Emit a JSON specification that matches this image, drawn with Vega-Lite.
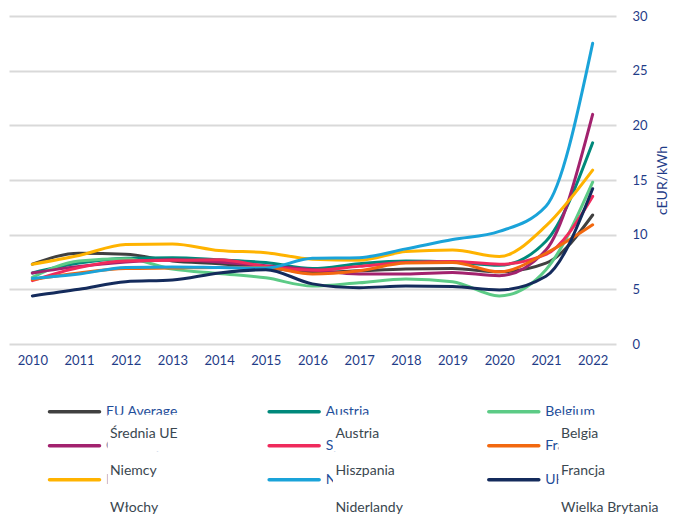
{
  "$schema": "https://vega.github.io/schema/vega-lite/v6.json",
  "padding": {"left": 9, "top": 10, "right": 0, "bottom": 0},
  "spacing": 27,
  "config": {"view": {"stroke": null}, "font": "Lato"},
  "datasets": {
    "prices": [
      {"country": "EU Average", "year": 2010, "value": 7.3}, {"country": "EU Average", "year": 2011, "value": 8.3}, {"country": "EU Average", "year": 2012, "value": 8.2}, {"country": "EU Average", "year": 2013, "value": 7.6}, {"country": "EU Average", "year": 2014, "value": 7.35}, {"country": "EU Average", "year": 2015, "value": 7.0}, {"country": "EU Average", "year": 2016, "value": 6.55}, {"country": "EU Average", "year": 2017, "value": 6.7}, {"country": "EU Average", "year": 2018, "value": 6.85}, {"country": "EU Average", "year": 2019, "value": 6.9}, {"country": "EU Average", "year": 2020, "value": 6.6}, {"country": "EU Average", "year": 2021, "value": 7.4}, {"country": "EU Average", "year": 2022, "value": 11.8},
      {"country": "Austria", "year": 2010, "value": 6.5}, {"country": "Austria", "year": 2011, "value": 7.4}, {"country": "Austria", "year": 2012, "value": 7.85}, {"country": "Austria", "year": 2013, "value": 7.9}, {"country": "Austria", "year": 2014, "value": 7.7}, {"country": "Austria", "year": 2015, "value": 7.45}, {"country": "Austria", "year": 2016, "value": 6.9}, {"country": "Austria", "year": 2017, "value": 7.35}, {"country": "Austria", "year": 2018, "value": 7.6}, {"country": "Austria", "year": 2019, "value": 7.5}, {"country": "Austria", "year": 2020, "value": 7.2}, {"country": "Austria", "year": 2021, "value": 9.4}, {"country": "Austria", "year": 2022, "value": 18.4},
      {"country": "Belgium", "year": 2010, "value": 6.1}, {"country": "Belgium", "year": 2011, "value": 7.6}, {"country": "Belgium", "year": 2012, "value": 7.8}, {"country": "Belgium", "year": 2013, "value": 6.85}, {"country": "Belgium", "year": 2014, "value": 6.45}, {"country": "Belgium", "year": 2015, "value": 6.05}, {"country": "Belgium", "year": 2016, "value": 5.3}, {"country": "Belgium", "year": 2017, "value": 5.6}, {"country": "Belgium", "year": 2018, "value": 5.95}, {"country": "Belgium", "year": 2019, "value": 5.7}, {"country": "Belgium", "year": 2020, "value": 4.4}, {"country": "Belgium", "year": 2021, "value": 6.8}, {"country": "Belgium", "year": 2022, "value": 14.8},
      {"country": "Germany", "year": 2010, "value": 6.5}, {"country": "Germany", "year": 2011, "value": 7.1}, {"country": "Germany", "year": 2012, "value": 7.5}, {"country": "Germany", "year": 2013, "value": 7.7}, {"country": "Germany", "year": 2014, "value": 7.5}, {"country": "Germany", "year": 2015, "value": 7.15}, {"country": "Germany", "year": 2016, "value": 6.8}, {"country": "Germany", "year": 2017, "value": 6.4}, {"country": "Germany", "year": 2018, "value": 6.4}, {"country": "Germany", "year": 2019, "value": 6.55}, {"country": "Germany", "year": 2020, "value": 6.25}, {"country": "Germany", "year": 2021, "value": 8.6}, {"country": "Germany", "year": 2022, "value": 21.0},
      {"country": "Spain", "year": 2010, "value": 5.8}, {"country": "Spain", "year": 2011, "value": 7.0}, {"country": "Spain", "year": 2012, "value": 7.6}, {"country": "Spain", "year": 2013, "value": 7.65}, {"country": "Spain", "year": 2014, "value": 7.7}, {"country": "Spain", "year": 2015, "value": 7.1}, {"country": "Spain", "year": 2016, "value": 6.75}, {"country": "Spain", "year": 2017, "value": 7.1}, {"country": "Spain", "year": 2018, "value": 7.45}, {"country": "Spain", "year": 2019, "value": 7.55}, {"country": "Spain", "year": 2020, "value": 7.3}, {"country": "Spain", "year": 2021, "value": 8.2}, {"country": "Spain", "year": 2022, "value": 13.5},
      {"country": "France", "year": 2010, "value": 5.9}, {"country": "France", "year": 2011, "value": 6.5}, {"country": "France", "year": 2012, "value": 6.9}, {"country": "France", "year": 2013, "value": 6.95}, {"country": "France", "year": 2014, "value": 7.0}, {"country": "France", "year": 2015, "value": 7.0}, {"country": "France", "year": 2016, "value": 6.4}, {"country": "France", "year": 2017, "value": 6.7}, {"country": "France", "year": 2018, "value": 7.4}, {"country": "France", "year": 2019, "value": 7.45}, {"country": "France", "year": 2020, "value": 6.6}, {"country": "France", "year": 2021, "value": 8.3}, {"country": "France", "year": 2022, "value": 10.9},
      {"country": "Italy", "year": 2010, "value": 7.3}, {"country": "Italy", "year": 2011, "value": 8.1}, {"country": "Italy", "year": 2012, "value": 9.1}, {"country": "Italy", "year": 2013, "value": 9.15}, {"country": "Italy", "year": 2014, "value": 8.55}, {"country": "Italy", "year": 2015, "value": 8.35}, {"country": "Italy", "year": 2016, "value": 7.75}, {"country": "Italy", "year": 2017, "value": 7.65}, {"country": "Italy", "year": 2018, "value": 8.45}, {"country": "Italy", "year": 2019, "value": 8.6}, {"country": "Italy", "year": 2020, "value": 8.0}, {"country": "Italy", "year": 2021, "value": 10.8}, {"country": "Italy", "year": 2022, "value": 15.9},
      {"country": "Netherlands", "year": 2010, "value": 6.0}, {"country": "Netherlands", "year": 2011, "value": 6.4}, {"country": "Netherlands", "year": 2012, "value": 7.0}, {"country": "Netherlands", "year": 2013, "value": 7.05}, {"country": "Netherlands", "year": 2014, "value": 7.0}, {"country": "Netherlands", "year": 2015, "value": 6.95}, {"country": "Netherlands", "year": 2016, "value": 7.85}, {"country": "Netherlands", "year": 2017, "value": 7.9}, {"country": "Netherlands", "year": 2018, "value": 8.7}, {"country": "Netherlands", "year": 2019, "value": 9.55}, {"country": "Netherlands", "year": 2020, "value": 10.3}, {"country": "Netherlands", "year": 2021, "value": 12.6}, {"country": "Netherlands", "year": 2022, "value": 27.5},
      {"country": "UK", "year": 2010, "value": 4.4}, {"country": "UK", "year": 2011, "value": 5.0}, {"country": "UK", "year": 2012, "value": 5.7}, {"country": "UK", "year": 2013, "value": 5.85}, {"country": "UK", "year": 2014, "value": 6.5}, {"country": "UK", "year": 2015, "value": 6.8}, {"country": "UK", "year": 2016, "value": 5.5}, {"country": "UK", "year": 2017, "value": 5.15}, {"country": "UK", "year": 2018, "value": 5.3}, {"country": "UK", "year": 2019, "value": 5.25}, {"country": "UK", "year": 2020, "value": 4.95}, {"country": "UK", "year": 2021, "value": 6.2}, {"country": "UK", "year": 2022, "value": 14.2}
    ],
    "legend": [
      {"country": "EU Average", "en": "EU Average", "pl": "Średnia UE"},
      {"country": "Austria", "en": "Austria", "pl": "Austria"},
      {"country": "Belgium", "en": "Belgium", "pl": "Belgia"},
      {"country": "Germany", "en": "Germany", "pl": "Niemcy"},
      {"country": "Spain", "en": "Spain", "pl": "Hiszpania"},
      {"country": "France", "en": "France", "pl": "Francja"},
      {"country": "Italy", "en": "Italy", "pl": "Włochy"},
      {"country": "Netherlands", "en": "Netherlands", "pl": "Niderlandy"},
      {"country": "UK", "en": "UK", "pl": "Wielka Brytania"}
    ]
  },
  "vconcat": [
    {
      "width": 607,
      "height": 328,
      "data": {"name": "prices"},
      "mark": {"type": "line", "interpolate": "monotone", "strokeWidth": 3, "strokeCap": "round"},
      "encoding": {
        "x": {
          "field": "year", "type": "quantitative",
          "scale": {"domain": [2009.5, 2022.5], "nice": false, "zero": false},
          "axis": {"values": [2010, 2011, 2012, 2013, 2014, 2015, 2016, 2017, 2018, 2019, 2020, 2021, 2022], "format": "d", "grid": false, "ticks": false, "domain": false, "labelPadding": 10, "title": null, "labelFontSize": 13, "labelColor": "#1F3C88", "labelFont": "Lato"}
        },
        "y": {
          "field": "value", "type": "quantitative",
          "scale": {"domain": [0, 30], "nice": false},
          "axis": {"orient": "right", "values": [0, 5, 10, 15, 20, 25, 30], "grid": true, "gridColor": "#D9D9D9", "gridWidth": 2, "ticks": false, "domain": false, "labelPadding": 16, "labelFontSize": 13, "labelColor": "#1F3C88", "labelFont": "Lato", "title": "cEUR/kWh", "titleAngle": 270, "titleFontSize": 14, "titleFontWeight": "normal", "titleColor": "#1F3C88", "titleFont": "Lato", "titlePadding": 22}
        },
        "color": {
          "field": "country", "type": "nominal",
          "scale": {"domain": ["EU Average", "Austria", "Belgium", "Germany", "Spain", "France", "Italy", "Netherlands", "UK"], "range": ["#404040", "#00897B", "#5CCB86", "#A2226E", "#EF2A5C", "#F2680F", "#FFB300", "#1AA3D9", "#142B5C"]},
          "legend": null
        }
      }
    },
    {
      "width": 607,
      "height": 120,
      "data": {"name": "legend"},
      "transform": [
        {"window": [{"op": "row_number", "as": "i"}]},
        {"calculate": "(datum.i - 1) % 3", "as": "col"},
        {"calculate": "floor((datum.i - 1) / 3)", "as": "row"}
      ],
      "layer": [
        {
          "mark": {"type": "rule", "strokeWidth": 3.5, "strokeCap": "round", "xOffset": 1.5, "x2Offset": 51.5},
          "encoding": {
            "x": {"field": "col", "type": "quantitative", "scale": {"domain": [0, 2], "range": [39, 478.3]}, "axis": null},
            "x2": {"field": "col"},
            "y": {"field": "row", "type": "quantitative", "scale": {"domain": [0, 2], "range": [17.7, 85.7]}, "axis": null},
            "color": {
              "field": "country", "type": "nominal",
              "scale": {"domain": ["EU Average", "Austria", "Belgium", "Germany", "Spain", "France", "Italy", "Netherlands", "UK"], "range": ["#404040", "#00897B", "#5CCB86", "#A2226E", "#EF2A5C", "#F2680F", "#FFB300", "#1AA3D9", "#142B5C"]},
              "legend": null
            }
          }
        },
        {
          "mark": {"type": "text", "align": "left", "baseline": "middle", "xOffset": 58, "fontSize": 14, "font": "Lato", "color": "#1F4E9A"},
          "encoding": {
            "x": {"field": "col", "type": "quantitative", "scale": {"domain": [0, 2], "range": [39, 478.3]}, "axis": null},
            "y": {"field": "row", "type": "quantitative", "scale": {"domain": [0, 2], "range": [17.7, 85.7]}, "axis": null},
            "text": {"field": "en"}
          }
        },
        {
          "mark": {"type": "rect", "fill": "white", "xOffset": -2.5, "x2Offset": 112, "yOffset": -23.5, "y2Offset": 13.5},
          "encoding": {
            "x": {"field": "col", "type": "quantitative", "scale": {"domain": [0, 2], "range": [101, 552]}, "axis": null},
            "x2": {"field": "col"},
            "y": {"field": "row", "type": "quantitative", "scale": {"domain": [0, 2], "range": [44.3, 118.3]}, "axis": null},
            "y2": {"field": "row"}
          }
        },
        {
          "mark": {"type": "text", "align": "left", "baseline": "alphabetic", "fontSize": 14, "font": "Lato", "color": "#3A4750"},
          "encoding": {
            "x": {"field": "col", "type": "quantitative", "scale": {"domain": [0, 2], "range": [101, 552]}, "axis": null},
            "y": {"field": "row", "type": "quantitative", "scale": {"domain": [0, 2], "range": [44.3, 118.3]}, "axis": null},
            "text": {"field": "pl"}
          }
        }
      ],
      "resolve": {"scale": {"x": "independent", "y": "independent"}}
    }
  ]
}
